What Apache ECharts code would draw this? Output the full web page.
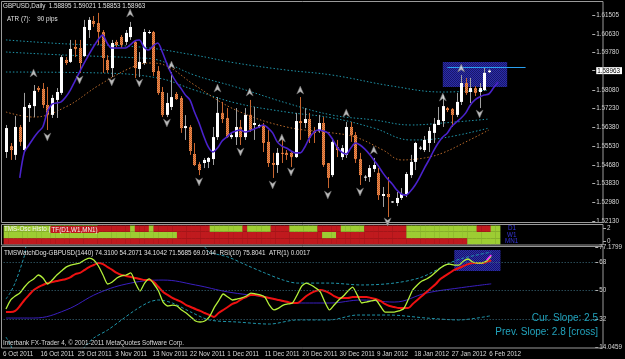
<!DOCTYPE html>
<html><head><meta charset="utf-8">
<script src="https://cdn.jsdelivr.net/npm/echarts@6/dist/echarts.min.js"></script>
<style>html,body{margin:0;padding:0;background:#000;overflow:hidden}#c{width:625px;height:359px}</style>
</head><body><div id="c"></div>
<script>
const FONT = 'Liberation Sans';
const dateLabels = ['6 Oct 2011','16 Oct 2011','25 Oct 2011','3 Nov 2011','13 Nov 2011','22 Nov 2011','1 Dec 2011','11 Dec 2011','20 Dec 2011','30 Dec 2011','9 Jan 2012','18 Jan 2012','27 Jan 2012','6 Feb 2012'];
const priceTicks = [1.61505,1.6063,1.5978,1.58963,1.5808,1.5723,1.5638,1.5553,1.5468,1.5383,1.5298,1.5213];
const lastClose = 1.58963;
const histTicks = [2,0];
const rsiTicks = [77.1799,68,50,32,14.0459];
const rsiLevels = [68,50,32];
// [open, close, low, high]
const ohlc = [
[1.5526,1.5635,1.5499,1.5649],[1.5553,1.5535,1.5490,1.5567],[1.5513,1.5640,1.5490,1.5690],[1.5640,1.5572,1.5553,1.5649],
[1.5535,1.5731,1.5526,1.5795],[1.5726,1.5740,1.5663,1.5749],[1.5735,1.5804,1.5685,1.5831],[1.5817,1.5808,1.5799,1.5826],
[1.5813,1.5740,1.5726,1.5840],[1.5740,1.5695,1.5626,1.5822],[1.5695,1.5772,1.5681,1.5786],[1.5763,1.5799,1.5681,1.5817],
[1.5795,1.5958,1.5786,1.5967],[1.5945,1.5931,1.5922,1.5958],[1.5936,1.5995,1.5931,1.6036],[1.6004,1.5995,1.5958,1.6036],
[1.5999,1.5931,1.5886,1.6036],[1.5963,1.6095,1.5958,1.6127],[1.6081,1.6127,1.6045,1.6140],[1.6122,1.6109,1.6095,1.6145],
[1.6113,1.6072,1.6013,1.6159],[1.6072,1.5954,1.5886,1.6081],[1.5945,1.5899,1.5886,1.5967],[1.5908,1.6022,1.5867,1.6036],
[1.6027,1.6013,1.6004,1.6036],[1.6049,1.6013,1.5999,1.6058],[1.6027,1.6068,1.6013,1.6081],[1.6049,1.6095,1.6036,1.6118],
[1.6027,1.5908,1.5863,1.6036],[1.5904,1.5936,1.5867,1.5981],[1.5931,1.6072,1.5922,1.6086],[1.6068,1.6072,1.6063,1.6081],
[1.6072,1.5890,1.5872,1.6077],[1.5895,1.5795,1.5786,1.5917],[1.5799,1.5695,1.5685,1.5822],[1.5695,1.5749,1.5685,1.5795],
[1.5731,1.5776,1.5717,1.5890],[1.5790,1.5767,1.5763,1.5799],[1.5772,1.5635,1.5613,1.5781],[1.5635,1.5644,1.5581,1.5694],
[1.5640,1.5531,1.5513,1.5649],[1.5517,1.5467,1.5462,1.5567],[1.5471,1.5444,1.5421,1.5481],[1.5476,1.5490,1.5453,1.5499],
[1.5481,1.5499,1.5453,1.5503],[1.5494,1.5594,1.5467,1.5640],[1.5594,1.5704,1.5581,1.5776],[1.5704,1.5676,1.5658,1.5754],
[1.5681,1.5594,1.5590,1.5726],[1.5594,1.5603,1.5585,1.5617],[1.5594,1.5640,1.5558,1.5726],[1.5640,1.5594,1.5558,1.5672],
[1.5594,1.5695,1.5581,1.5726],[1.5695,1.5626,1.5617,1.5763],[1.5649,1.5658,1.5581,1.5731],[1.5640,1.5649,1.5635,1.5654],
[1.5649,1.5567,1.5526,1.5658],[1.5572,1.5476,1.5458,1.5626],[1.5476,1.5467,1.5408,1.5522],[1.5467,1.5522,1.5431,1.5544],
[1.5522,1.5517,1.5476,1.5581],[1.5522,1.5513,1.5490,1.5535],[1.5522,1.5503,1.5458,1.5531],[1.5503,1.5667,1.5499,1.5704],
[1.5667,1.5658,1.5581,1.5776],[1.5658,1.5676,1.5635,1.5726],[1.5676,1.5590,1.5567,1.5704],[1.5622,1.5613,1.5567,1.5640],
[1.5622,1.5658,1.5613,1.5695],[1.5658,1.5467,1.5458,1.5685],[1.5476,1.5408,1.5362,1.5476],[1.5421,1.5572,1.5412,1.5590],
[1.5549,1.5535,1.5503,1.5581],[1.5503,1.5544,1.5490,1.5558],[1.5513,1.5640,1.5499,1.5663],[1.5640,1.5603,1.5572,1.5663],
[1.5603,1.5494,1.5476,1.5617],[1.5494,1.5421,1.5376,1.5522],[1.5412,1.5414,1.5394,1.5421],[1.5412,1.5453,1.5390,1.5467],
[1.5449,1.5467,1.5435,1.5499],[1.5431,1.5330,1.5308,1.5453],[1.5326,1.5335,1.5276,1.5367],[1.5335,1.5321,1.5230,1.5412],
[1.5299,1.5301,1.5294,1.5303],[1.5294,1.5317,1.5280,1.5344],[1.5317,1.5335,1.5308,1.5362],[1.5335,1.5426,1.5321,1.5435],
[1.5421,1.5481,1.5408,1.5513],[1.5481,1.5567,1.5444,1.5572],[1.5544,1.5546,1.5535,1.5553],[1.5535,1.5581,1.5526,1.5599],
[1.5567,1.5622,1.5526,1.5640],[1.5613,1.5654,1.5567,1.5681],[1.5649,1.5672,1.5649,1.5731],[1.5667,1.5735,1.5640,1.5786],
[1.5726,1.5717,1.5708,1.5731],[1.5722,1.5695,1.5640,1.5726],[1.5695,1.5754,1.5685,1.5795],[1.5754,1.5840,1.5740,1.5876],
[1.5840,1.5795,1.5786,1.5863],[1.5799,1.5817,1.5749,1.5863],[1.5817,1.5795,1.5781,1.5826],[1.5799,1.5817,1.5726,1.5840],
[1.5808,1.5886,1.5804,1.5908],[1.58895,1.58963,1.58853,1.59021]
];
const maFast = [null,null,null,1.5408,1.5526,1.5558,1.5590,1.5617,1.5640,1.5708,1.5744,1.5749,1.5754,1.5776,1.5808,1.5849,1.5890,1.5931,1.5968,1.6004,
1.6036,1.6058,1.6022,1.5999,1.5999,1.5999,1.5999,1.6013,1.6031,1.6036,1.6004,1.5990,1.6009,1.6022,1.5981,1.5927,1.5881,1.5845,1.5817,1.5786,
1.5763,1.5708,1.5658,1.5599,1.5549,1.5526,1.5544,1.5576,1.5594,1.5613,1.5622,1.5626,1.5617,1.5622,1.5631,1.5640,1.5649,1.5635,1.5613,1.5572,
1.5553,1.5544,1.5531,1.5522,1.5522,1.5549,1.5590,1.5617,1.5626,1.5622,1.5613,1.5585,1.5549,1.5526,1.5517,1.5544,1.5567,1.5558,1.5540,1.5517,
1.5490,1.5462,1.5430,1.5403,1.5381,1.5353,1.5335,1.5330,1.5349,1.5376,1.5412,1.5453,1.5490,1.5531,1.5567,1.5594,1.5613,1.5644,1.5663,1.5681,
1.5704,1.5740,1.5763,1.5776,1.5785,1.5790,1.5817,1.5845];
const envUpper = [[0,1.6036],[13,1.6018],[29,1.6004],[41,1.5967],[50,1.5931],[61,1.5899],[71,1.5876],[84,1.5826],[95,1.5799],[105,1.5808]];
const envMid = [[0,1.5981],[13,1.5967],[29,1.5954],[33,1.5945],[41,1.5876],[50,1.5822],[61,1.5749],[71,1.5694],[80,1.5672],[88,1.5649],[95,1.5658],[105,1.5676]];
const envLow = [[0,1.5890],[20,1.5886],[33,1.5863],[41,1.5808],[50,1.5749],[61,1.5708],[71,1.5681],[80,1.5635],[88,1.5581],[95,1.5590],[105,1.5635]];
const maSlow = [[0,1.5708],[6,1.5685],[13,1.5731],[20,1.5827],[27,1.5908],[31,1.5931],[35,1.5917],[41,1.5831],[50,1.5717],[61,1.5640],[71,1.5613],[76,1.5594],[82,1.5535],[86,1.5490],[91,1.5499],[95,1.5522],[100,1.5572],[105,1.5626]];
const upArrows = [[6,1.5886],[27,1.6159],[36,1.5922],[46,1.5817],[53,1.5799],[60,1.5590],[64,1.5808],[74,1.5704],[80,1.5535],[95,1.5776],[99,1.5908]];
const downArrows = [[9,1.5594],[16,1.5854],[23,1.5845],[29,1.5840],[35,1.5658],[42,1.5390],[51,1.5526],[58,1.5376],[62,1.5435],[70,1.5330],[77,1.5344],[83,1.5208],[103,1.5699]];
const zoneBox = [[95,1.5936],[109,1.5822]];
const zoneLine = [[96,1.5913],[113,1.5913]];
// histogram rows: G = green, R = red
const histD1  = 'GGGGGGGGGGGGGGGGGGGGRRRRRRRGRRRGRRRRRRRRRRRRGGGGGGGRGGGGGRRRRGGGGGGRRRRRGGGGGRRRRRRRRRGGGGGGGGGGGGGGGRRRGG';
const histW1  = 'GGGGGGGGGGGGGGGGGGGGGGGGGGGGGGGGGGGGGRRRRRRRRRRRRRRRRRRRRRRRRRRRRRRRGGGRRRRRRRRRRRRRRRGGGGGGGGGGGGGGGGGGGG';
const histMN1 = 'RRRRRRRRRRRRRRRRRRRRRRRRRRRRRRRRRRRRRRRRRRRRRRRRRRRRRRRRRRRRRRRRRRRRRRRRRRRRRRRRRRRRRRRRRRRRRRRRRRRGGGGGGG';
const rsiFast = [38.3,44.0,46.5,48.4,52.2,55.4,57.3,59.8,57.9,54.1,56.6,59.8,62.3,64.8,66.1,66.7,67.4,69.3,70.5,69.3,
65.5,59.8,54.1,55.4,57.9,59.2,59.8,61.1,54.7,49.7,54.7,57.3,54.1,49.7,42.7,40.2,40.8,40.2,37.7,35.8,
33.3,30.7,30.1,30.7,33.3,38.9,43.4,47.8,45.9,44.0,44.6,45.3,46.5,48.4,47.8,47.2,45.9,40.8,37.7,38.9,
40.8,41.5,42.1,47.2,52.8,54.7,53.5,51.6,49.1,42.7,37.7,40.8,44.0,46.5,49.7,52.2,47.2,42.1,42.7,43.4,
44.0,40.2,36.4,36.4,36.4,37.1,38.3,44.0,50.3,53.5,56.0,57.3,59.2,61.7,64.2,66.1,66.7,66.1,66.1,68.6,
69.9,68.0,67.4,67.4,68.6,71.57];
const rsiSlow = [36.4,36.4,37.1,40.2,44.0,47.2,50.3,52.2,53.5,54.7,55.4,56.0,56.6,57.3,58.5,60.4,61.1,63.0,64.8,66.1,
67.4,66.7,64.8,63.0,61.1,59.8,59.2,58.5,57.9,57.3,56.6,56.6,55.4,52.2,49.1,47.2,45.3,44.0,42.7,40.8,
39.6,38.3,37.1,35.8,34.5,33.3,35.8,37.7,39.6,41.5,42.7,44.6,45.9,47.2,47.2,46.5,45.9,45.3,44.6,44.0,
43.4,42.7,42.1,42.1,44.0,46.5,48.4,49.7,50.3,49.7,48.4,46.5,45.3,45.3,45.3,45.9,45.9,45.9,45.9,45.3,
44.6,43.4,41.5,40.2,39.6,38.9,38.9,38.9,41.5,44.0,46.5,49.1,51.6,54.1,57.3,59.2,61.1,63.0,64.2,65.5,
66.7,67.4,67.4,67.4,68.0,69.01];
const rsiMid = [[0,32.6],[6,32.6],[13,37.7],[20,48.4],[27,54.7],[34,56.6],[41,53.5],[48,49.1],[56,45.9],[63,42.1],[70,42.1],[77,44.0],[84,42.7],[91,48.4],[98,51.6],[105,54.21]];
const rsiUpper = [[0,44.6],[1,49],[2,55],[3,63],[4,72],[5,81],[40,82],[43,77.5],[44,74.3],[48,71.2],[52,66.1],[56,61.1],[60,56.6],[63,54.7],[70,54.7],[77,53.5],[84,54.7],[90,58.5],[96,67.4],[99,70.5],[105,74.31]];
const rsiLower = [[0,20.6],[1,15.6],[2,10],[16,10],[17,14.3],[19,20.0],[22,25.0],[25,31.4],[28,37.7],[31,42.7],[33,44.0],[36,42.1],[40,36.4],[44,31.4],[50,30.1],[57,28.8],[63,31.4],[70,31.4],[76,34.5],[83,34.5],[91,32.6],[98,31.4],[105,34.10]];
const rsiTail = [[104,69.3],[105,72.4]];
const rsiBox = [[97,75.6],[107,62.3]];

const SLOTS = 128;
const cats = Array.from({length: SLOTS}, (_, i) => String(i));

function pattern(c1, c2) {
  const cv = document.createElement('canvas'); cv.width = 2; cv.height = 2;
  const g = cv.getContext('2d'); g.fillStyle = c1; g.fillRect(0,0,2,2);
  g.fillStyle = c2; g.fillRect(0,0,1,1); g.fillRect(1,1,1,1);
  return {image: cv, repeat: 'repeat'};
}
const bearFill = pattern('#f08a4c', '#c0622c');
const blueFill = pattern('#2c2ca8', '#17176a');

const histData = [];
[histMN1, histW1, histD1].forEach((s, row) => {
  for (let i = 0; i < s.length; i++) histData.push([i, row, s[i] === 'G' ? 1 : 0]);
});

const chart = echarts.init(document.getElementById('c'), null, {renderer: 'canvas', width: 625, height: 359});
const lbl = {color: '#d8d8d8', fontSize: 6.3, fontFamily: FONT};
const hideX = (gi) => ({type: 'category', data: cats, gridIndex: gi, boundaryGap: true,
  axisLine: {show: false}, axisTick: {show: false}, axisLabel: {show: false}, splitLine: {show: false}});

const option = {
  backgroundColor: '#000',
  animation: false,
  grid: [
    {left: 3.66, right: 22, top: 2, height: 220},
    {left: 3.66, right: 22, top: 225.5, height: 19},
    {left: 3.66, right: 22, top: 247.5, height: 99.9},
    {left: -0.34, right: 26, top: 347, height: 1}
  ],
  xAxis: [hideX(0), hideX(1), hideX(2),
    Object.assign(hideX(3), {axisLabel: Object.assign({show: true, interval: 7, align: 'left', margin: 3,
      formatter: (v, idx) => dateLabels[idx / 8] || ''}, lbl)})],
  yAxis: [
    {gridIndex: 0, type: 'value', position: 'right', min: 1.52076, max: 1.62086,
      axisLine: {show: false}, splitLine: {show: false},
      axisTick: {show: true, customValues: priceTicks, length: 3, lineStyle: {color: '#b0b0b0'}},
      axisLabel: Object.assign({customValues: priceTicks, margin: 4,
        formatter: v => Math.abs(v - lastClose) < 1e-7 ? '{hl|' + v.toFixed(5) + '}' : v.toFixed(5),
        rich: {hl: {backgroundColor: '#ffffff', color: '#000', fontSize: 6.3, fontFamily: FONT, padding: [1, 2, 0, 1]}}}, lbl)},
    {gridIndex: 1, type: 'value', position: 'right', min: -0.538, max: 2.385,
      axisLine: {show: false}, splitLine: {show: false},
      axisTick: {show: true, customValues: histTicks, length: 3, lineStyle: {color: '#b0b0b0'}},
      axisLabel: Object.assign({customValues: histTicks, margin: 4}, lbl)},
    {gridIndex: 1, type: 'value', min: 0, max: 3, show: false},
    {gridIndex: 2, type: 'value', position: 'right', min: 14.0459, max: 77.1799,
      axisLine: {show: false}, splitLine: {show: false},
      axisTick: {show: true, customValues: rsiTicks, length: 3, lineStyle: {color: '#b0b0b0'}},
      axisLabel: Object.assign({customValues: rsiTicks, margin: 4,
        formatter: v => Number.isInteger(v) ? String(v) : v.toFixed(4)}, lbl)},
    {gridIndex: 3, type: 'value', show: false}
  ],
  series: [
    {type: 'line', xAxisIndex: 0, yAxisIndex: 0, data: [], z: 1, silent: true,
      markArea: {silent: true, itemStyle: {color: blueFill},
        data: [[{coord: zoneBox[0]}, {coord: zoneBox[1]}]]},
      markLine: {silent: true, symbol: 'none', label: {show: false},
        lineStyle: {color: '#2aa0f0', width: 1, type: 'solid'},
        data: [[{coord: zoneLine[0]}, {coord: zoneLine[1]}]]}},
    {type: 'line', xAxisIndex: 0, yAxisIndex: 0, data: envUpper, smooth: 0.4, symbol: 'none', z: 2,
      lineStyle: {color: '#1f95aa', width: 1, type: [1.5, 2]}},
    {type: 'line', xAxisIndex: 0, yAxisIndex: 0, data: envMid, smooth: 0.4, symbol: 'none', z: 2,
      lineStyle: {color: '#1f95aa', width: 1, type: [1.5, 2]}},
    {type: 'line', xAxisIndex: 0, yAxisIndex: 0, data: envLow, smooth: 0.4, symbol: 'none', z: 2,
      lineStyle: {color: '#1f95aa', width: 1, type: [1.5, 2]}},
    {type: 'line', xAxisIndex: 0, yAxisIndex: 0, data: maSlow, smooth: 0.4, symbol: 'none', z: 2,
      lineStyle: {color: '#b8692a', width: 1, type: [1.5, 2]}},
    {type: 'custom', xAxisIndex: 0, yAxisIndex: 0, z: 3,
      data: ohlc.map((d, i) => [i, d[0], d[1], d[2], d[3]]),
      encode: {x: 0, y: [1, 2, 3, 4]},
      renderItem: (params, api) => {
        const i = api.value(0), o = api.value(1), c = api.value(2), l = api.value(3), h = api.value(4);
        const po = api.coord([i, o]), pc = api.coord([i, c]), pl = api.coord([i, l]), ph = api.coord([i, h]);
        const x = Math.round(po[0]) + 0.5;
        const bull = c >= o;
        const top = Math.min(po[1], pc[1]), bot = Math.max(po[1], pc[1]);
        return {type: 'group', children: [
          {type: 'line', shape: {x1: x, y1: ph[1], x2: x, y2: pl[1]}, style: {stroke: bull ? '#a0a0a0' : '#c8652e', lineWidth: 1}},
          {type: 'rect', shape: {x: x - 1.5, y: top, width: 3, height: Math.max(1, bot - top)},
            style: {fill: bull ? '#ffffff' : bearFill}}
        ]};
      }},
    {type: 'line', xAxisIndex: 0, yAxisIndex: 0, data: maFast, symbol: 'none', z: 4, smooth: 0.3,
      lineStyle: {color: '#4a22cc', width: 1.6}},
    {type: 'scatter', xAxisIndex: 0, yAxisIndex: 0, data: upArrows, z: 5,
      symbol: 'path://M5,0 L10,10 L5,7 L0,10 Z', symbolSize: [7, 8],
      itemStyle: {color: '#e8e8e8', borderColor: '#6a6a6a', borderWidth: 0.6}},
    {type: 'scatter', xAxisIndex: 0, yAxisIndex: 0, data: downArrows, z: 5,
      symbol: 'path://M0,0 L5,3 L10,0 L5,10 Z', symbolSize: [7, 8],
      itemStyle: {color: '#e8e8e8', borderColor: '#6a6a6a', borderWidth: 0.6}},
    {type: 'custom', xAxisIndex: 1, yAxisIndex: 2, data: histData, encode: {x: 0, y: 1},
      renderItem: (params, api) => {
        const i = api.value(0), row = api.value(1), g = api.value(2);
        const p0 = api.coord([i, row]), p1 = api.coord([i, row + 1]);
        const w = api.size([1, 0])[0];
        return {type: 'rect', shape: {x: p0[0] - w / 2, y: p1[1], width: w + 0.4, height: p0[1] - p1[1]},
          style: {fill: g ? '#9dcd33' : '#c01a1e'}};
      }},
    {type: 'line', xAxisIndex: 2, yAxisIndex: 3, data: [], z: 1, silent: true,
      markArea: {silent: true, itemStyle: {color: blueFill}, data: [[{coord: rsiBox[0]}, {coord: rsiBox[1]}]]}},
    {type: 'line', xAxisIndex: 2, yAxisIndex: 3, data: rsiUpper, smooth: 0.3, symbol: 'none', z: 2,
      lineStyle: {color: '#1f95aa', width: 1, type: [3, 2]}},
    {type: 'line', xAxisIndex: 2, yAxisIndex: 3, data: rsiLower, smooth: 0.3, symbol: 'none', z: 2,
      lineStyle: {color: '#1f95aa', width: 1, type: [3, 2]}},
    {type: 'line', xAxisIndex: 2, yAxisIndex: 3, data: rsiMid, smooth: 0.4, symbol: 'none', z: 2,
      lineStyle: {color: '#3a1fc0', width: 1}},
    {type: 'line', xAxisIndex: 2, yAxisIndex: 3, data: rsiSlow, smooth: 0.3, symbol: 'none', z: 3,
      lineStyle: {color: '#ee1111', width: 2}},
    {type: 'line', xAxisIndex: 2, yAxisIndex: 3, data: rsiFast, smooth: 0.2, symbol: 'none', z: 4,
      lineStyle: {color: '#b4f03a', width: 1.3},
      markLine: {silent: true, symbol: 'none', label: {show: false},
        lineStyle: {color: '#3d6f80', width: 1, type: [1, 2]},
        data: rsiLevels.map(v => ({yAxis: v}))}},
    {type: 'line', xAxisIndex: 2, yAxisIndex: 3, data: rsiTail, symbol: 'none', z: 5,
      lineStyle: {color: '#ff33ff', width: 1.5}}
  ],
  graphic: [
    {type: 'rect', shape: {x: 1.5, y: 1.5, width: 601.5, height: 221}, style: {fill: null, stroke: '#9a9a9a', lineWidth: 1}, silent: true, z: 10},
    {type: 'rect', shape: {x: 1.5, y: 224.5, width: 601.5, height: 20.5}, style: {fill: null, stroke: '#9a9a9a', lineWidth: 1}, silent: true, z: 10},
    {type: 'rect', shape: {x: 1.5, y: 246.5, width: 601.5, height: 101.5}, style: {fill: null, stroke: '#9a9a9a', lineWidth: 1}, silent: true, z: 10},
    {type: 'text', left: 3, top: 3, z: 20, style: {text: 'GBPUSD,Daily  1.58895 1.59021 1.58853 1.58963', fill: '#e0e0e0', font: '6.3px ' + FONT}},
    {type: 'text', left: 7, top: 16, z: 20, style: {text: 'ATR (7):    90 pips', fill: '#e0e0e0', font: '6.3px ' + FONT}},
    {type: 'text', left: 4, top: 226, z: 20, style: {text: '{a|TMS-Osc Histo (}{b|TF(D1,W1,MN1)}', font: '6.3px ' + FONT,
      rich: {a: {fill: '#f0f0f0', font: '6.3px ' + FONT}, b: {fill: '#f0f0f0', font: '6.3px ' + FONT, backgroundColor: '#c01a1e', padding: [1, 1, 0, 1]}}}},
    {type: 'text', left: 508, top: 225.5, z: 20, style: {text: 'D1', fill: '#3636d8', font: '6.3px ' + FONT}},
    {type: 'text', left: 507, top: 232, z: 20, style: {text: 'W1', fill: '#3636d8', font: '6.3px ' + FONT}},
    {type: 'text', left: 505, top: 238.5, z: 20, style: {text: 'MN1', fill: '#3636d8', font: '6.3px ' + FONT}},
    {type: 'text', left: 4, top: 250, z: 20, style: {text: 'TMSWatchDog-GBPUSD(1440) 74.3100 54.2071 34.1042 71.5685 69.0144  RSI(10) 75.8041  ATR(1) 0.0017', fill: '#e0e0e0', font: '6.3px ' + FONT}},
    {type: 'text', right: 27, top: 313, z: 20, style: {text: 'Cur. Slope: 2.5', fill: '#22a3bd', font: '10px ' + FONT}},
    {type: 'text', right: 27, top: 327, z: 20, style: {text: 'Prev. Slope: 2.8 [cross]', fill: '#22a3bd', font: '10px ' + FONT}},
    {type: 'text', left: 3, top: 340, z: 20, style: {text: 'Interbank FX-Trader 4, \u00a9 2001-2011 MetaQuotes Software Corp.', fill: '#d8d8d8', font: '6.3px ' + FONT}}
  ]
};
chart.setOption(option);
</script></body></html>
